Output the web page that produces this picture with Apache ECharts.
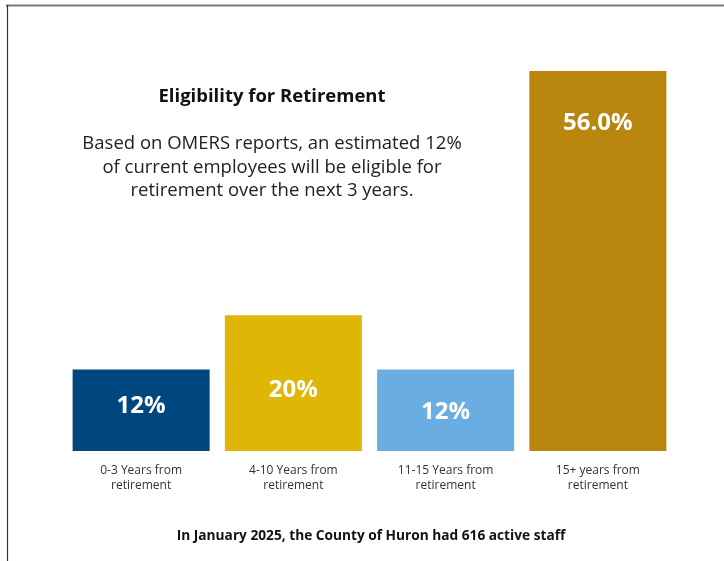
<!DOCTYPE html>
<html>
<head>
<meta charset="utf-8">
<script src="https://cdn.jsdelivr.net/npm/echarts@6/dist/echarts.min.js"></script>
<style>
  html, body { margin: 0; padding: 0; background: #fff; }
  #chart { width: 724px; height: 561px; }
</style>
</head>
<body>
<div id="chart"></div>
<script>
// Share of staff by years from retirement
const categories = [
  '0-3 Years from\nretirement',
  '4-10 Years from\nretirement',
  '11-15 Years from\nretirement',
  '15+ years from\nretirement'
];
const shares = [12, 20, 12, 56];
const shareDecimals = [0, 0, 0, 1];
const barColors = ['#00467f', '#dfb506', '#6aade2', '#b8860c'];

const FONT = '"Open Sans", "Noto Sans", sans-serif';

// per-bar label placement inside each column
const labelPlacement = [
  { position: 'inside', offset: [0, -4] },
  { position: 'inside', offset: [0, 7] },
  { position: 'inside', offset: [0, 2] },
  { position: 'insideTop', distance: 40 }
];

const chart = echarts.init(document.getElementById('chart'), null, { renderer: 'canvas' });

chart.setOption({
  backgroundColor: '#ffffff',
  animation: false,
  title: [
    {
      text: 'Eligibility for Retirement',
      left: 272, top: 87, textAlign: 'center', padding: 0,
      textStyle: { fontFamily: FONT, fontSize: 18.5, fontWeight: 'bold', color: '#111' }
    },
    {
      text: 'Based on OMERS reports, an estimated 12%\nof current employees will be eligible for\nretirement over the next 3 years.',
      left: 272, top: 132, textAlign: 'center', padding: 0,
      textStyle: { fontFamily: FONT, fontSize: 18.5, fontWeight: 'normal', color: '#222', lineHeight: 23.5, align: 'center' }
    },
    {
      text: 'In January 2025, the County of Huron had 616 active staff',
      left: 371, top: 529, textAlign: 'center', padding: 0,
      textStyle: { fontFamily: FONT, fontSize: 13.7, fontWeight: 'bold', color: '#111' }
    }
  ],
  grid: { left: 65, top: 71, width: 609, height: 380, containLabel: false },
  xAxis: {
    type: 'category',
    data: categories,
    axisLine: { show: false },
    axisTick: { show: false },
    axisLabel: {
      interval: 0, margin: 12,
      fontFamily: FONT, fontSize: 12, color: '#333', lineHeight: 15, align: 'center'
    }
  },
  yAxis: {
    type: 'value', min: 0, max: 56,
    show: false, splitLine: { show: false }
  },
  series: [{
    type: 'bar',
    barWidth: '90%',
    data: shares.map((v, i) => ({
      value: v,
      itemStyle: { color: barColors[i] },
      label: Object.assign({
        show: true,
        formatter: () => v.toFixed(shareDecimals[i]) + '%',
        color: '#ffffff',
        fontFamily: FONT, fontSize: 24, fontWeight: 'bold'
      }, labelPlacement[i])
    }))
  }],
  graphic: [
    { type: 'line', shape: { x1: 6, y1: 5.5, x2: 724, y2: 5.5 }, style: { stroke: '#7b7b7b', lineWidth: 2 } },
    { type: 'line', shape: { x1: 7.5, y1: 5, x2: 7.5, y2: 561 }, style: { stroke: '#333333', lineWidth: 1.2 } }
  ]
});
</script>
</body>
</html>
